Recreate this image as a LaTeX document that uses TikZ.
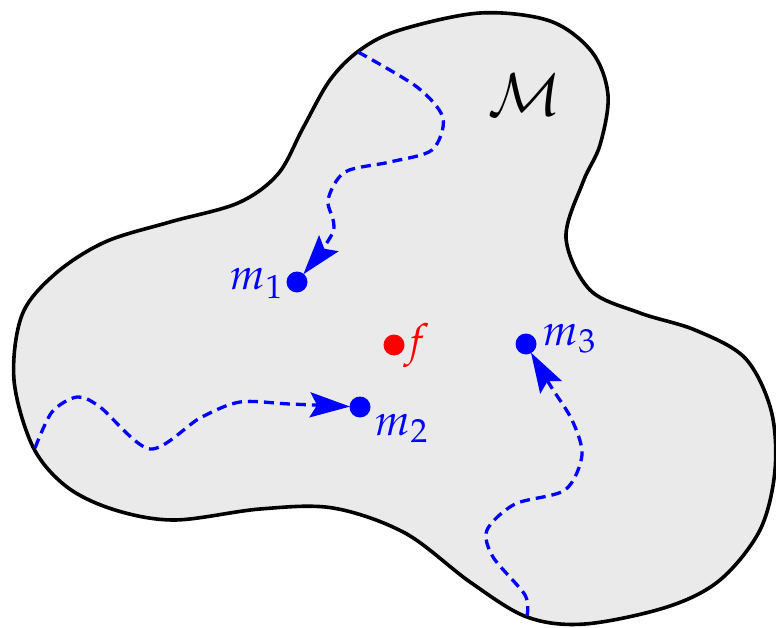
\documentclass[tikz,border=0pt]{standalone}
\usepackage{mathpazo}
\usetikzlibrary{arrows.meta}
\definecolor{blobfill}{RGB}{234,234,234}
\tikzset{
  blob/.style={draw=black, line width=3.6pt, fill=blobfill},
  trail/.style={draw=blue, line width=3.3pt, dash pattern=on 10pt off 6pt,
    -{Stealth[length=40pt,width=25pt,inset=7pt]}, shorten >=10pt},
  pointdot/.style={circle, fill=#1, inner sep=0pt, minimum size=21pt},
  lbl/.style={inner sep=0pt, font=\fontsize{44}{50}\selectfont},
  biglbl/.style={inner sep=0pt, font=\fontsize{58}{64}\selectfont},
}
\begin{document}
\begin{tikzpicture}[x=1pt,y=-1pt]
\useasboundingbox (0,0) rectangle (776,628);
\path[blob] plot[smooth cycle, tension=0.55] coordinates {
 (400,30) (480,13) (550,21) (592,52) (608,95) (600,145) (583,182)
 (566,238) (590,290) (640,313) (695,330) (745,358) (771,410) (775,470)
 (760,530) (720,580) (667,607) (585,624) (527,617) (470,582) (405,533)
 (333,508) (260,509) (175,520) (115,510) (67,487) (33,447) (14,380)
 (22,315) (55,274) (105,242) (170,222) (238,203) (278,174)
 (303,128) (330,80) (360,50)};

\node[biglbl, anchor=center] (M) at (525,95) {$\mathcal{M}$};

\node[pointdot=blue] (m1) at (297,282) {};
\node[pointdot=blue] (m2) at (360,407) {};
\node[pointdot=blue] (m3) at (526,344) {};
\node[pointdot=red]  (f)  at (394,345) {};

\node[lbl, anchor=base east, text=blue] (l1) at (283,290) {$m_1$};
\node[lbl, anchor=base west, text=blue] (l2) at (375,435) {$m_2$};
\node[lbl, anchor=base west, text=blue] (l3) at (543,345) {$m_3$};
\node[lbl, anchor=base west, text=red]  (lf) at (404,355) {$f$};

\coordinate (s1) at (358,52);
\coordinate (s2) at (35,448);
\coordinate (s3) at (527,616);

\draw[trail] plot[smooth] coordinates {(s1) (417,87) (443,118) (432,150)
  (390,162) (345,172) (328,200) (333,232) (m1)};
\draw[trail] plot[smooth] coordinates {(s2) (52,412) (77,397) (100,407)
  (150,449) (200,418) (240,402) (290,404) (m2)};
\draw[trail] plot[smooth] coordinates {(s3) (525,595) (493,557) (487,530)
  (515,504) (565,490) (582,455) (572,420) (550,385) (m3)};
\end{tikzpicture}
\end{document}
